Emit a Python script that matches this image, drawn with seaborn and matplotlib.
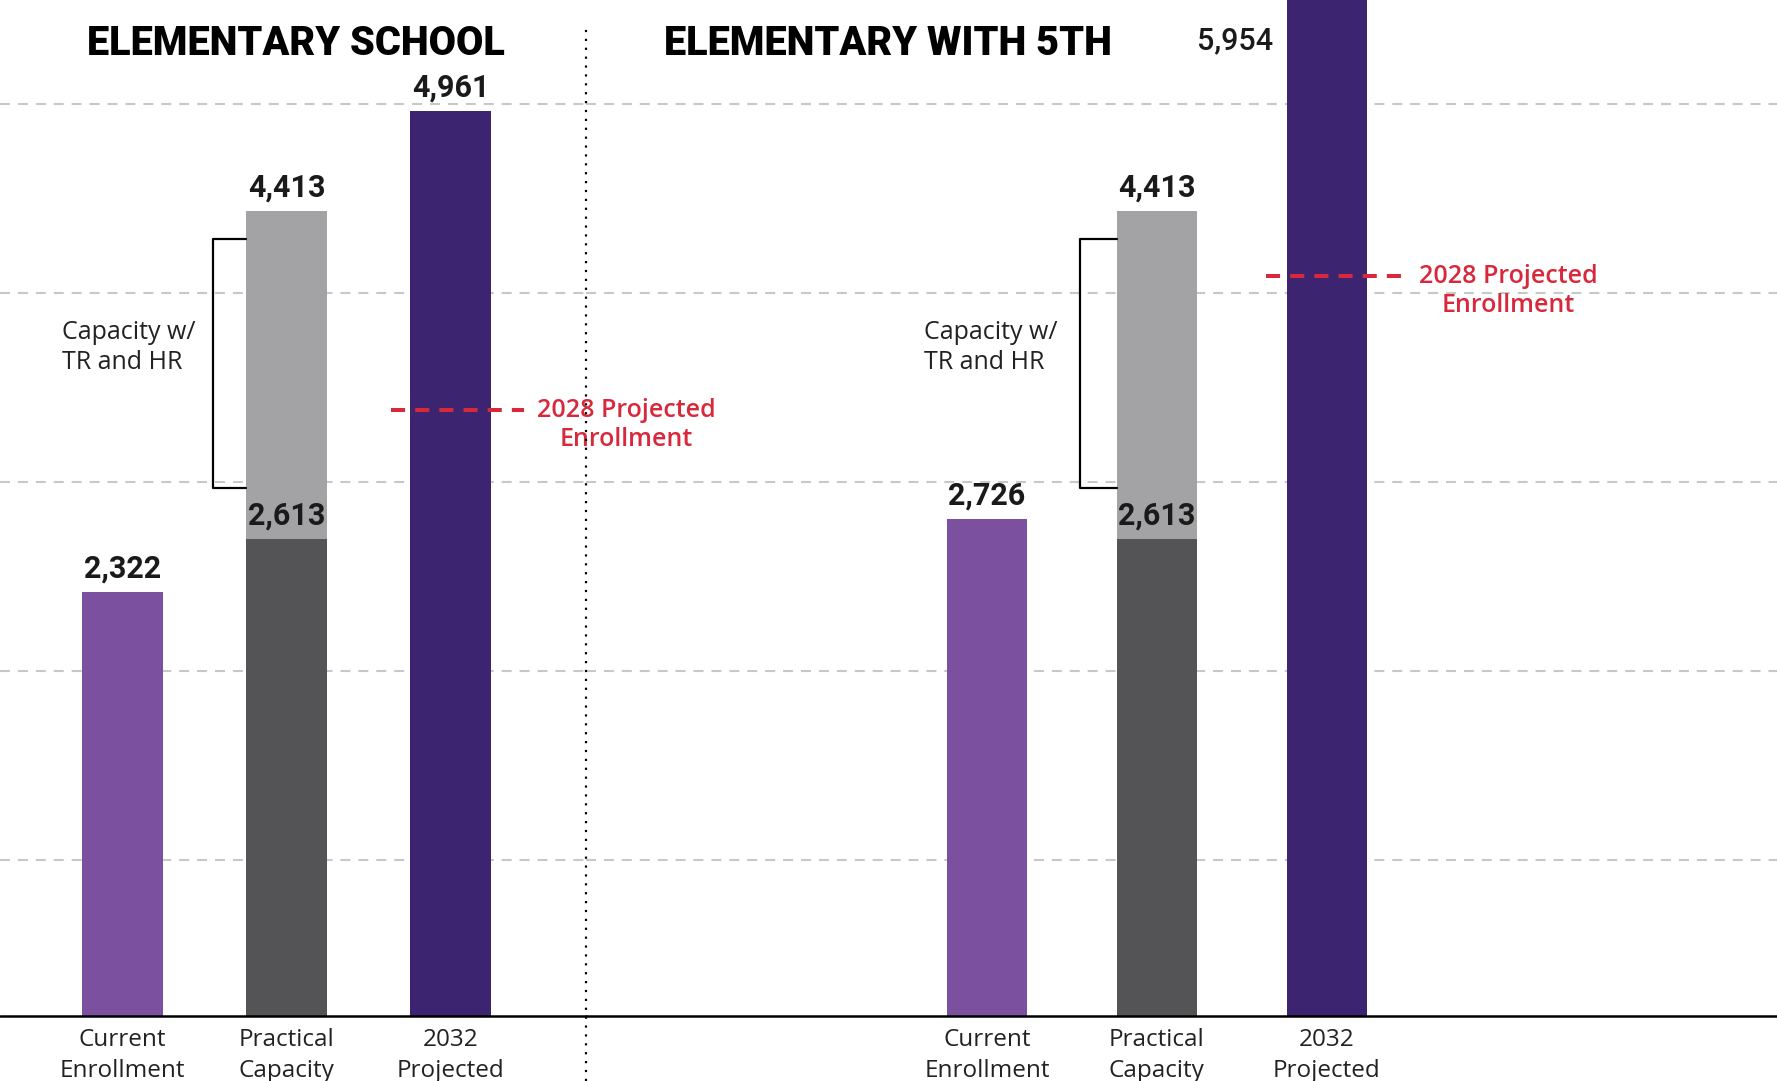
import numpy as np
import pandas as pd
import matplotlib
matplotlib.use("Agg")
import matplotlib.pyplot as plt
from matplotlib.lines import Line2D
import seaborn as sns

# data
categories = ["Current\nEnrollment", "Practical\nCapacity", "2032\nProjected"]
panel_titles = ["ELEMENTARY SCHOOL", "ELEMENTARY WITH 5TH"]
current_enrollment = [2322, 2726]
practical_capacity = [2613, 2613]
capacity_tr_hr = [4413, 4413]
projected_2032 = [4961, 5954]
projected_2028 = [3320, 4055]
grid_levels = [855, 1890, 2930, 3965, 5000]

purple = "#7b519f"
dark_purple = "#3c2470"
dark_gray = "#545456"
light_gray = "#a3a3a5"
red = "#d8283c"

sns.set_theme(style="white")
plt.rcParams["font.family"] = ["Roboto", "DejaVu Sans"]
label_font = ["Open Sans", "DejaVu Sans"]

W, H = 1777, 1081
fig = plt.figure(figsize=(W / 100, H / 100), dpi=100)
bottom = 65 / H
ax_l = fig.add_axes([0, bottom, 586 / W, 1 - bottom])
ax_r = fig.add_axes([586 / W, bottom, 1 - 586 / W, 1 - bottom])

ymax = 5570
bar_w = [0.49, 0.47]
xlims = [(-0.747, 2.826), (-2.36, 4.65)]

for i, ax in enumerate([ax_l, ax_r]):
    ax.set_facecolor("none")
    w = bar_w[i]
    df = pd.DataFrame({"cat": categories,
                       "val": [current_enrollment[i], capacity_tr_hr[i], projected_2032[i]]})
    sns.barplot(data=df, x="cat", y="val", hue="cat", order=categories,
                palette=[purple, light_gray, dark_purple], legend=False,
                width=w, saturation=1, linewidth=0, ax=ax, zorder=3)
    base = pd.DataFrame({"cat": [categories[1]], "val": [practical_capacity[i]]})
    sns.barplot(data=base, x="cat", y="val", order=categories, color=dark_gray,
                width=w, saturation=1, linewidth=0, ax=ax, zorder=4)

    ax.set_ylim(0, ymax)
    ax.set_xlim(*xlims[i])
    for g in grid_levels:
        ax.axhline(g, color="#c8c8c8", lw=1.5, ls=(0, (4.8, 3.8)), zorder=1)
    ax.axhline(0, color="black", lw=1.8, zorder=5, clip_on=False)

    for s in ax.spines.values():
        s.set_visible(False)
    ax.set_yticks([])
    ax.set_xlabel("")
    ax.set_ylabel("")
    ax.tick_params(axis="x", length=0, pad=9, labelcolor="#222222")
    for t in ax.get_xticklabels():
        t.set_linespacing(1.35)
        t.set_fontsize(17.5)
        t.set_family(label_font)

    # value labels
    lab = dict(ha="center", va="center", fontsize=22, fontweight="bold",
               color="#1a1a1a", textcoords="offset points", zorder=6)
    ax.annotate(f"{current_enrollment[i]:,}", (0, current_enrollment[i]), xytext=(0, 17), **lab)
    ax.annotate(f"{capacity_tr_hr[i]:,}", (1, capacity_tr_hr[i]), xytext=(0, 17), **lab)
    ax.annotate(f"{practical_capacity[i]:,}", (1, practical_capacity[i]), xytext=(0, 17), **lab)

    # bracket for capacity with TR and HR
    xv = 0.55
    xe = 1 - w / 2
    ax.plot([xe, xv, xv, xe], [4260, 4260, 2895, 2895], color="black", lw=1.6, zorder=6)
    ax.text(-0.37, 3665, "Capacity w/\nTR and HR", ha="left", va="center",
            fontsize=18, color="#222222", linespacing=1.25, family=label_font)

    # 2028 projected marker
    ax.plot([1.64, 2.45], [projected_2028[i]] * 2, color=red, lw=2.9,
            ls=(0, (3.5, 2.5)), zorder=7, solid_capstyle="butt")
    ax.text(3.07, projected_2028[i] + 70, "2028 Projected\nEnrollment", ha="center", va="top",
            fontsize=18, fontweight="semibold", color=red, linespacing=1.25, family=label_font)

# 2032 labels
ax_l.annotate(f"{projected_2032[0]:,}", (2, projected_2032[0]), xytext=(0, 17),
              textcoords="offset points", ha="center", va="center", fontsize=22,
              fontweight="bold", color="#1a1a1a")
ax_r.text(2 - bar_w[1] / 2 - 0.08, 5345, f"{projected_2032[1]:,}", ha="right", va="center",
          fontsize=22, fontweight="medium", color="#1a1a1a")

# panel titles
ax_l.text(1.06, 5334, panel_titles[0], ha="center", va="center", fontsize=28.5,
          fontweight="black", color="black")
ax_r.text(-0.58, 5334, panel_titles[1], ha="center", va="center", fontsize=28.5,
          fontweight="black", color="black")

# dotted divider
fig.add_artist(Line2D([586 / W, 586 / W], [0, 1 - 28 / H], color="black", lw=1.6,
                      ls=(0, (1, 3)), transform=fig.transFigure))

fig.savefig("out.png", dpi=100)
